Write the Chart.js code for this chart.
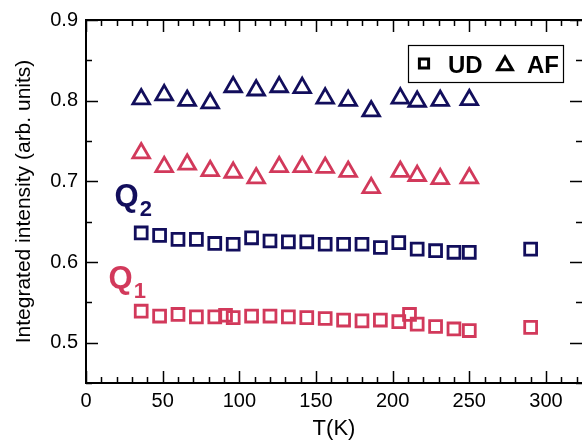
<!DOCTYPE html>
<html>
<head>
<meta charset="utf-8">
<script src="https://cdn.jsdelivr.net/npm/chart.js@4"></script>
<style>
html, body { margin: 0; padding: 0; overflow: hidden; background: #fff; }
</style>
</head>
<body>
<canvas id="grafico" width="582" height="445"></canvas>
<script>
// cores dos dois picos
const azul = '#120e5c'
const vermelho = '#d2395b'

// UD (quadrados)
const tUDq2 = [36, 48, 60, 72, 84, 96, 108, 120, 132, 144, 156, 168, 180, 192, 204, 216, 228, 240, 250, 290]
const udQ2 = [0.636, 0.633, 0.628, 0.628, 0.623, 0.622, 0.630, 0.626, 0.625, 0.625, 0.622, 0.622, 0.622, 0.618, 0.624, 0.616, 0.614, 0.612, 0.612, 0.616]
const tUDq1 = [36, 48, 60, 72, 84, 91, 96, 108, 120, 132, 144, 156, 168, 180, 192, 204, 211, 216, 228, 240, 250, 290]
const udQ1 = [0.539, 0.533, 0.535, 0.532, 0.532, 0.534, 0.531, 0.533, 0.533, 0.532, 0.531, 0.530, 0.528, 0.527, 0.528, 0.526, 0.535, 0.523, 0.520, 0.517, 0.515, 0.519]

// AF (triangulos)
const tAF = [36, 51, 66, 81, 96, 111, 126, 141, 156, 171, 186, 205, 216, 231, 250]
const afQ2 = [0.802, 0.807, 0.800, 0.797, 0.817, 0.813, 0.817, 0.816, 0.803, 0.800, 0.787, 0.803, 0.799, 0.800, 0.801]
const afQ1 = [0.735, 0.718, 0.721, 0.713, 0.711, 0.704, 0.718, 0.718, 0.717, 0.712, 0.692, 0.712, 0.707, 0.703, 0.704]

const xTicks = [0, 50, 100, 150, 200, 250, 300]
const yTicks = [0.5, 0.6, 0.7, 0.8, 0.9]

// posicao dos rotulos Q (em unidades dos eixos)
const rotulos = [
	{texto: 'Q', sub: '2', t: 18.6, v: 0.669, cor: azul},
	{texto: 'Q', sub: '1', t: 14.7, v: 0.568, cor: vermelho}
]

function pontos(ts, vs){
	let p = []
	for (let i = 0; i < ts.length; i++){
		p.push({x: ts[i], y: vs[i]})
	}
	return p
}

function serie(ts, vs, cor, estilo, raio){
	return {
		data: pontos(ts, vs),
		pointStyle: estilo,
		pointRadius: raio,
		pointBorderWidth: 2.8,
		pointBorderColor: cor,
		pointBackgroundColor: 'rgba(0,0,0,0)',
		showLine: false
	}
}

const moldura = {
	id: 'moldura',
	afterDraw(chart){
		const ctx = chart.ctx
		const a = chart.chartArea
		const x = chart.scales.x
		const y = chart.scales.y
		ctx.save()
		ctx.strokeStyle = '#000'
		ctx.lineWidth = 1.5
		ctx.beginPath()
		for (let v = 0; v <= 320; v += 10){
			const px = Math.round(x.getPixelForValue(v)) + 0.5
			const len = v % 50 === 0 ? 12 : 6
			ctx.moveTo(px, a.bottom); ctx.lineTo(px, a.bottom - len)
			ctx.moveTo(px, a.top); ctx.lineTo(px, a.top + len)
		}
		for (let k = 9; k <= 18; k++){
			const py = Math.round(y.getPixelForValue(k * 0.05)) + 0.5
			const len = k % 2 === 0 ? 12 : 6
			ctx.moveTo(a.left, py); ctx.lineTo(a.left + len, py)
			ctx.moveTo(a.right, py); ctx.lineTo(a.right - len, py)
		}
		ctx.stroke()
		// eixos: esquerda, base e topo (a direita fica fora da janela)
		ctx.lineWidth = 2
		ctx.beginPath()
		ctx.moveTo(a.right, a.top); ctx.lineTo(a.left, a.top)
		ctx.lineTo(a.left, a.bottom); ctx.lineTo(a.right, a.bottom)
		ctx.stroke()

		// rotulos Q1 / Q2
		rotulos.forEach(r => {
			const px = x.getPixelForValue(r.t)
			const py = y.getPixelForValue(r.v)
			ctx.fillStyle = r.cor
			ctx.textBaseline = 'alphabetic'
			ctx.textAlign = 'left'
			ctx.font = 'bold 31px "Liberation Sans", Arial, sans-serif'
			ctx.fillText(r.texto, px, py)
			const w = ctx.measureText(r.texto).width
			ctx.font = 'bold 22px "Liberation Sans", Arial, sans-serif'
			ctx.fillText(r.sub, px + w + 1, py + 10)
		})

		// legenda
		const bx = a.right - 174, by = a.top + 25, bw = 155, bh = 37
		ctx.lineWidth = 1.2
		ctx.strokeStyle = '#000'
		ctx.strokeRect(bx + 0.5, by + 0.5, bw, bh)
		const cy = by + bh / 2
		ctx.fillStyle = 'rgba(0,0,0,0)'
		ctx.lineWidth = 3
		Chart.helpers.drawPoint(ctx, {pointStyle: 'rect', radius: 6.5, borderWidth: 3}, bx + 16, cy)
		Chart.helpers.drawPoint(ctx, {pointStyle: 'triangle', radius: 8.5, borderWidth: 3}, bx + 97, cy + 2)
		ctx.fillStyle = '#000'
		ctx.font = 'bold 24px "Liberation Sans", Arial, sans-serif'
		ctx.textBaseline = 'alphabetic'
		ctx.fillText('UD', bx + 40, cy + 9)
		ctx.fillText('AF', bx + 119, cy + 9)
		ctx.restore()
	}
}

Chart.defaults.font.family = '"Liberation Sans", Arial, sans-serif'
Chart.defaults.color = '#000'
// contexto do grafico
const ctx = document.getElementById('grafico').getContext('2d')
new Chart(ctx, {
	type: 'scatter',
	data: {
		datasets: [
			serie(tUDq2, udQ2, azul, 'rect', 8.4),
			serie(tUDq1, udQ1, vermelho, 'rect', 8.4),
			serie(tAF, afQ2, azul, 'triangle', 9.6),
			serie(tAF, afQ1, vermelho, 'triangle', 9.6)
		]
	},
	options: {
		responsive: false,
		animation: false,
		layout: {autoPadding: false, padding: {top: 14, right: 0, left: 0, bottom: 0}},
		plugins: {legend: {display: false}, tooltip: {enabled: false}},
		scales: {
			x: {
				type: 'linear',
				min: 0,
				max: 323.5,
				afterBuildTicks: s => { s.ticks = xTicks.map(v => ({value: v})) },
				afterFit: s => { s.height = 62 },
				grid: {display: false, drawTicks: false},
				border: {display: false},
				ticks: {font: {size: 20}, color: '#000', padding: 6, maxRotation: 0, autoSkip: false},
				title: {display: true, text: 'T(K)', font: {size: 22}, color: '#000', padding: {top: 0, bottom: 3}}
			},
			y: {
				type: 'linear',
				min: 0.45,
				max: 0.9,
				afterBuildTicks: s => { s.ticks = yTicks.map(v => ({value: v})) },
				afterFit: s => { s.width = 86 },
				grid: {display: false, drawTicks: false},
				border: {display: false},
				ticks: {font: {size: 20}, color: '#000', padding: 8, autoSkip: false, callback: v => v.toFixed(1)},
				title: {display: true, text: 'Integrated intensity (arb. units)', font: {size: 21}, color: '#000', padding: {top: 12, bottom: 0}}
			}
		}
	},
	plugins: [moldura]
})
</script>
</body>
</html>
